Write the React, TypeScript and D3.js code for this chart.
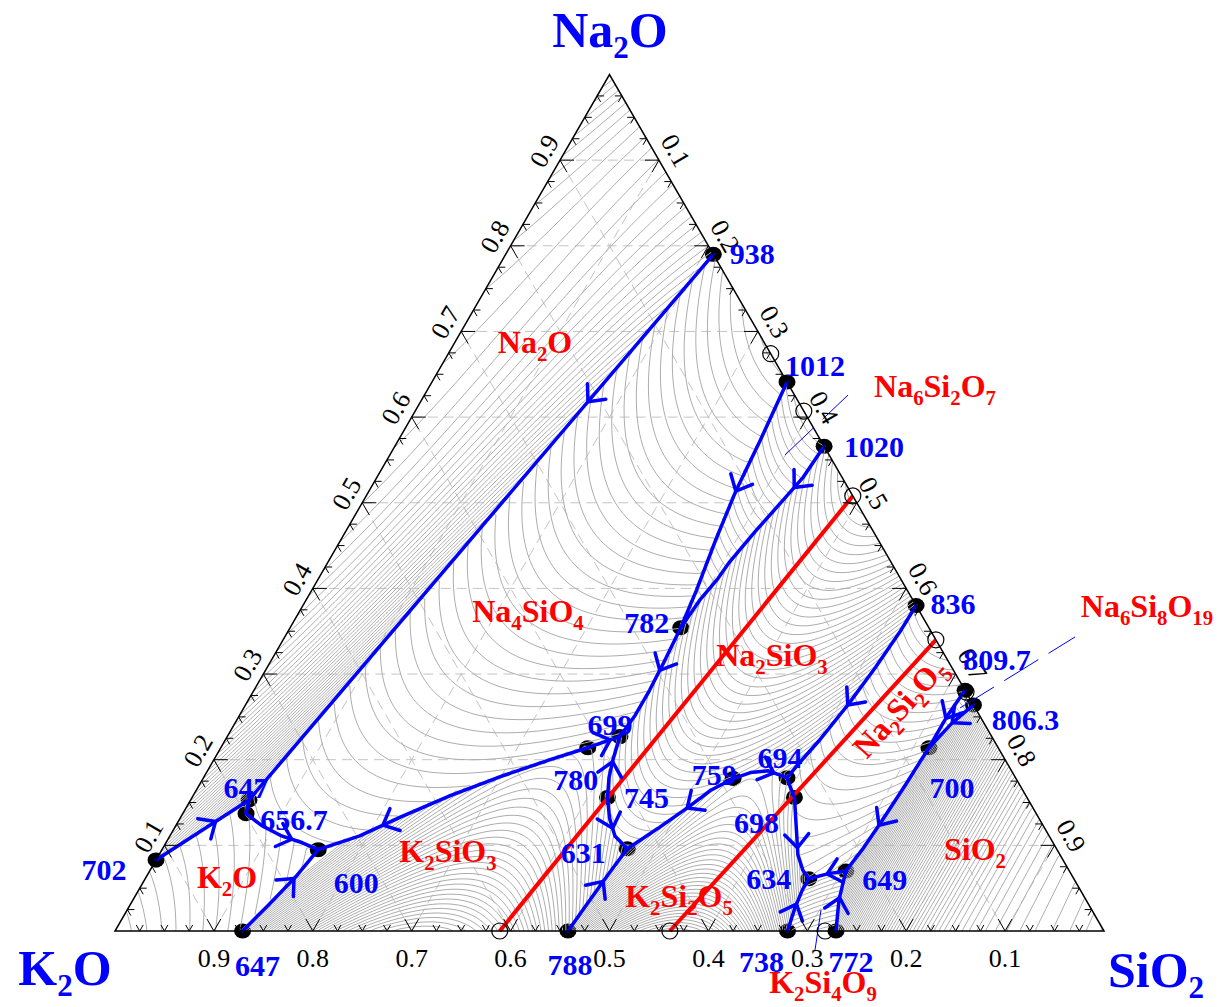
import React, { useMemo } from "react";
import * as d3 from "d3";

// Compositions are [SiO2, Na2O] mass fractions; K2O is the remainder.
type Comp = [number, number];

const WIDTH = 1221;
const HEIGHT = 1007;
const SERIF = "'Liberation Serif', 'Times New Roman', Times, serif";
const BLUE = "#0000ff";
const RED = "#ff0000";

// ---------------------------------------------------------------- data

const invariantPoints: { id: string; T: number; comp: Comp }[] = [
  { id: "938", T: 938, comp: [0.21, 0.79] },
  { id: "1012", T: 1012, comp: [0.359, 0.641] },
  { id: "1020", T: 1020, comp: [0.434, 0.566] },
  { id: "836", T: 836, comp: [0.62, 0.38] },
  { id: "809.7", T: 809.7, comp: [0.719, 0.281] },
  { id: "806.3", T: 806.3, comp: [0.736, 0.264] },
  { id: "702", T: 702, comp: [0, 0.083] },
  { id: "647b", T: 647, comp: [0.129, 0] },
  { id: "788", T: 788, comp: [0.458, 0] },
  { id: "738", T: 738, comp: [0.68, 0] },
  { id: "772", T: 772, comp: [0.729, 0] },
  { id: "647t", T: 647, comp: [0.059, 0.153] },
  { id: "656.7", T: 656.7, comp: [0.064, 0.137] },
  { id: "600", T: 600, comp: [0.158, 0.095] },
  { id: "780", T: 780, comp: [0.371, 0.214] },
  { id: "699", T: 699, comp: [0.397, 0.227] },
  { id: "782", T: 782, comp: [0.395, 0.354] },
  { id: "745", T: 745, comp: [0.42, 0.156] },
  { id: "631", T: 631, comp: [0.47, 0.096] },
  { id: "759", T: 759, comp: [0.536, 0.178] },
  { id: "694", T: 694, comp: [0.59, 0.179] },
  { id: "698", T: 698, comp: [0.609, 0.156] },
  { id: "634", T: 634, comp: [0.671, 0.061] },
  { id: "649", T: 649, comp: [0.704, 0.07] },
  { id: "700", T: 700, comp: [0.716, 0.214] },
];

// Univariant boundary curves, each running from the hotter end to the colder end
const boundaryCurves: { id: string; from: string; to: string; via: Comp[] }[] = [
  { id: "C1", from: "938", to: "647t", via: [] },
  { id: "C2", from: "702", to: "647t", via: [] },
  { id: "C3", from: "656.7", to: "647t", via: [] },
  { id: "C4", from: "656.7", to: "600", via: [[0.087, 0.123], [0.113, 0.111], [0.138, 0.103]] },
  { id: "C5", from: "647b", to: "600", via: [[0.14, 0.03], [0.151, 0.063]] },
  { id: "C6", from: "780", to: "600", via: [[0.34, 0.2], [0.299, 0.18], [0.26, 0.158], [0.222, 0.133], [0.192, 0.111]] },
  { id: "C7", from: "780", to: "699", via: [[0.385, 0.221]] },
  { id: "C8a", from: "1012", to: "782", via: [[0.366, 0.573], [0.371, 0.513], [0.379, 0.457], [0.389, 0.398]] },
  { id: "C8b", from: "782", to: "699", via: [[0.398, 0.316], [0.4, 0.281], [0.4, 0.252]] },
  { id: "C9", from: "1020", to: "782", via: [[0.431, 0.53], [0.424, 0.503], [0.414, 0.466], [0.406, 0.431], [0.404, 0.412], [0.398, 0.386]] },
  { id: "C10a", from: "745", to: "699", via: [[0.41, 0.179], [0.403, 0.202]] },
  { id: "C10b", from: "745", to: "631", via: [[0.434, 0.132], [0.45, 0.111]] },
  { id: "C11", from: "788", to: "631", via: [[0.462, 0.036], [0.466, 0.069]] },
  { id: "C12", from: "759", to: "631", via: [[0.52, 0.164], [0.507, 0.144], [0.49, 0.121], [0.478, 0.106]] },
  { id: "C13", from: "759", to: "694", via: [[0.55, 0.185], [0.567, 0.187]] },
  { id: "C14", from: "836", to: "694", via: [[0.619, 0.349], [0.615, 0.307], [0.609, 0.264], [0.601, 0.223], [0.594, 0.197]] },
  { id: "C15a", from: "698", to: "694", via: [[0.598, 0.169]] },
  { id: "C15b", from: "698", to: "634", via: [[0.63, 0.118], [0.646, 0.089], [0.66, 0.071]] },
  { id: "C16", from: "738", to: "634", via: [[0.674, 0.027], [0.671, 0.048]] },
  { id: "C17", from: "649", to: "634", via: [[0.688, 0.067]] },
  { id: "C18", from: "772", to: "649", via: [[0.714, 0.036]] },
  { id: "C19", from: "700", to: "649", via: [[0.714, 0.171], [0.711, 0.126], [0.708, 0.095]] },
  { id: "C20", from: "809.7", to: "700", via: [[0.716, 0.252]] },
  { id: "C21", from: "806.3", to: "700", via: [[0.725, 0.243]] },
];

// Direction-of-cooling arrows: curve id and position along the curve (0..1)
const flowArrows: [string, number][] = [
  ["C1", 0.27], ["C2", 0.64], ["C4", 0.65], ["C5", 0.66], ["C6", 0.76], ["C7", 0.7],
  ["C8a", 0.45], ["C8b", 0.38], ["C9", 0.22], ["C10a", 0.58], ["C10b", 0.55], ["C11", 0.6],
  ["C12", 0.43], ["C13", 0.75], ["C14", 0.56], ["C15b", 0.6], ["C16", 0.5], ["C17", 0.5],
  ["C18", 0.55], ["C19", 0.62], ["C20", 0.5], ["C21", 0.45],
];

// Binary compounds (open circles)
const compounds: { name: string; comp: Comp }[] = [
  { name: "Na4SiO4", comp: [0.326, 0.674] },
  { name: "Na6Si2O7", comp: [0.393, 0.607] },
  { name: "Na2SiO3", comp: [0.492, 0.508] },
  { name: "Na2Si2O5", comp: [0.66, 0.34] },
  { name: "Na6Si8O19", comp: [0.721, 0.279] },
  { name: "K2SiO3", comp: [0.389, 0] },
  { name: "K2Si2O5", comp: [0.561, 0] },
  { name: "K2Si4O9", comp: [0.718, 0] },
];

// Compatibility joins (red)
const joins: [string, string][] = [
  ["K2SiO3", "Na2SiO3"],
  ["K2Si2O5", "Na2Si2O5"],
];

// Leader lines for the narrow fields
const leaders: { comp: [Comp, Comp]; dashed: boolean }[] = [
  { comp: [[0.3996, 0.5558], [0.4283, 0.6258]], dashed: true },
  { comp: [[0.7242, 0.2604], [0.7991, 0.3433]], dashed: true },
  { comp: [[0.7016, 0.0245], [0.7189, -0.0222]], dashed: false },
];

const cornerComp: Record<string, Comp> = { K2O: [0, 0], SiO2: [1, 0], Na2O: [0, 1] };

// Straight isotherms across the Na2O field (°C, end compositions)
const na2oIsotherms: { T: number; from: Comp; to: Comp }[] = [
  { T: 1100, from: [0.0346, 0.9654], to: [0, 0.871] },
  { T: 1050, from: [0.0887, 0.9113], to: [0, 0.669] },
  { T: 1000, from: [0.1429, 0.8571], to: [0, 0.467] },
  { T: 950, from: [0.197, 0.803], to: [0, 0.265] },
  { T: 900, from: [0.1903, 0.7068], to: [0, 0.195] },
  { T: 850, from: [0.1644, 0.5976], to: [0, 0.166] },
  { T: 800, from: [0.1384, 0.488], to: [0, 0.138] },
  { T: 750, from: [0.1125, 0.3785], to: [0, 0.11] },
];

// Silica field isotherm positions: distance from the SiO2 corner (1 - SiO2) vs °C
const silicaProfile: [number, number][] = [
  [0, 1310], [0.05, 1290], [0.1, 1250], [0.13, 1215], [0.16, 1170], [0.2, 1080], [0.24, 950],
];

// Primary phase fields: outline (corners "@", curves "C…", reversed "-C…", points)
// plus liquidus estimates [SiO2, Na2O, °C]
const phaseFields: { name: string; outline: string[]; extra: [number, number, number][]; kind: string }[] = [
  { name: "Na2O", outline: ["@Na2O", "938", "C1", "-C2"],
    extra: [
      [0, 1, 1132],
      ...na2oIsotherms.flatMap(({ T, from, to }) =>
        [0, 0.25, 0.5, 0.75, 1].map((f) => [from[0] + (to[0] - from[0]) * f, from[1] + (to[1] - from[1]) * f, T] as [number, number, number])
      ),
    ], kind: "poly3" },
  { name: "K2O", outline: ["@K2O", "702", "C2", "-C3", "C4", "-C5"],
    extra: [[0, 0, 740], [0.06, 0, 700], [0, 0.04, 725]], kind: "poly2" },
  { name: "Na4SiO4", outline: ["938", "1012", "C8a", "C8b", "-C7", "C6", "-C4", "C3", "-C1"],
    extra: [[0.326, 0.674, 1083], [0.27, 0.73, 1030]], kind: "poly2" },
  { name: "Na6Si2O7", outline: ["1012", "1020", "C9", "-C8a"],
    extra: [[0.395, 0.605, 1028]], kind: "poly2" },
  { name: "Na2SiO3", outline: ["1020", "836", "C14", "-C13", "C12", "-C10b", "C10a", "-C8b", "-C9"],
    extra: [[0.492, 0.508, 1089], [0.56, 0.44, 1010]], kind: "poly2" },
  { name: "K2SiO3", outline: ["647b", "788", "C11", "-C10b", "C10a", "-C7", "C6", "-C5"],
    extra: [[0.389, 0, 976]], kind: "poly2" },
  { name: "K2Si2O5", outline: ["788", "738", "C16", "-C15b", "C15a", "-C13", "C12", "-C11"],
    extra: [[0.561, 0, 1045], [0.51, 0, 960], [0.63, 0, 950]], kind: "poly2" },
  { name: "Na2Si2O5", outline: ["836", "809.7", "C20", "C19", "C17", "-C15b", "C15a", "-C14"],
    extra: [[0.66, 0.34, 874], [0.69, 0.31, 850]], kind: "poly2" },
  { name: "Na6Si8O19", outline: ["809.7", "806.3", "C21", "-C20"], extra: [], kind: "poly1" },
  { name: "K2Si4O9", outline: ["738", "772", "C18", "C17", "-C16"],
    extra: [[0.705, 0, 760]], kind: "poly2" },
  { name: "SiO2", outline: ["772", "@SiO2", "806.3", "C21", "C19", "-C18"],
    extra: silicaProfile.flatMap(([u, T]) => [[1 - u, 0, T], [1 - u, u, T], [1 - u, u / 2, T]] as [number, number, number][]),
    kind: "silica" },
];

const isothermStep = 10;
const tickValues = [0.1, 0.2, 0.3, 0.4, 0.5, 0.6, 0.7, 0.8, 0.9];

// ---------------------------------------------------------------- layout

const FRAME = { left: 115, right: 1104, base: 931, height: 856.5 };
const xScale = d3.scaleLinear().domain([0, 1]).range([FRAME.left, FRAME.right]);
const yScale = d3.scaleLinear().domain([0, 1]).range([FRAME.base, FRAME.base - FRAME.height]);
const project = ([s, n]: Comp): [number, number] => [xScale(s + n / 2), yScale(n)];
const planar = ([s, n]: Comp): [number, number] => [s + n / 2 - 0.5, n * 0.866 - 0.3];

const pointLabelOffset: Record<string, [number, number]> = {
  "938": [39, 0], "1012": [28, -16], "1020": [50, 1], "836": [37, -2], "809.7": [32, -30],
  "806.3": [52, 15], "700": [23, 40], "649": [39, 9], "634": [-40, 0], "738": [-26, 31],
  "772": [15, 31], "788": [2, 34], "647b": [15, 35], "600": [38, 33], "656.7": [48, 6],
  "702": [-52, 10], "647t": [-3, -12], "780": [-12, 32], "699": [-10, -12], "782": [-34, -5],
  "745": [39, 1], "631": [-44, 4], "759": [-19, -4], "694": [-7, -20], "698": [-38, 26],
};

const phaseLabels: { text: string; x: number; y: number; rotate?: number }[] = [
  { text: "Na_2O", x: 535, y: 353 },
  { text: "Na_4SiO_4", x: 528, y: 622 },
  { text: "Na_2SiO_3", x: 772, y: 666 },
  { text: "Na_2Si_2O_5", x: 900, y: 708, rotate: -48 },
  { text: "K_2O", x: 227, y: 888 },
  { text: "K_2SiO_3", x: 448, y: 862 },
  { text: "K_2Si_2O_5", x: 679, y: 907 },
  { text: "SiO_2", x: 975, y: 860 },
  { text: "Na_6Si_2O_7", x: 935, y: 397 },
  { text: "Na_6Si_8O_19", x: 1147, y: 617 },
  { text: "K_2Si_4O_9", x: 823, y: 993 },
];

const cornerTitles: { text: string; x: number; y: number }[] = [
  { text: "Na_2O", x: 610, y: 47 },
  { text: "K_2O", x: 65, y: 985 },
  { text: "SiO_2", x: 1156, y: 987 },
];

// ---------------------------------------------------------------- liquidus surface

function basis(c: Comp, kind: string): number[] {
  if (kind === "silica") {
    const u = 1 - c[0], v = 2 * c[1] + c[0] - 1;
    return [1, u, u * u, u * u * u, v, v * u];
  }
  const [X, Y] = planar(c);
  const b = [1, X, Y];
  if (kind !== "poly1") b.push(X * X, X * Y, Y * Y);
  if (kind === "poly3") b.push(X * X * X, X * X * Y, X * Y * Y, Y * Y * Y);
  return b;
}

function fitSurface(anchors: [number, number, number, number][], kind: string): number[] {
  const m = basis([0.3, 0.3], kind).length;
  const A = Array.from({ length: m }, () => new Array(m + 1).fill(0));
  for (const [s, n, T, w] of anchors) {
    const b = basis([s, n], kind);
    for (let i = 0; i < m; i++) {
      for (let j = 0; j < m; j++) A[i][j] += w * b[i] * b[j];
      A[i][m] += w * b[i] * T;
    }
  }
  for (let i = 0; i < m; i++) A[i][i] += 1e-9;
  for (let c = 0; c < m; c++) {
    let p = c;
    for (let r = c + 1; r < m; r++) if (Math.abs(A[r][c]) > Math.abs(A[p][c])) p = r;
    [A[c], A[p]] = [A[p], A[c]];
    for (let r = 0; r < m; r++) {
      if (r === c) continue;
      const f = A[r][c] / A[c][c];
      for (let k = c; k <= m; k++) A[r][k] -= f * A[c][k];
    }
  }
  return A.map((row, i) => row[m] / row[i]);
}

function segDist(p: number[], a: number[], b: number[]) {
  const dx = b[0] - a[0], dy = b[1] - a[1];
  const L = dx * dx + dy * dy || 1e-12;
  const t = Math.max(0, Math.min(1, ((p[0] - a[0]) * dx + (p[1] - a[1]) * dy) / L));
  return Math.hypot(p[0] - a[0] - t * dx, p[1] - a[1] - t * dy);
}

function buildModel() {
  const pt = new Map(invariantPoints.map((p) => [p.id, p]));
  const curvePts = new Map<string, Comp[]>();
  const curveDense = new Map<string, { pts: Comp[]; temps: number[] }>();
  for (const c of boundaryCurves) {
    const pts: Comp[] = [pt.get(c.from)!.comp, ...c.via, pt.get(c.to)!.comp];
    curvePts.set(c.id, pts);
    const dense: Comp[] = [pts[0]];
    for (let i = 1; i < pts.length; i++) {
      const a = pts[i - 1], b = pts[i];
      const steps = Math.max(1, Math.ceil(Math.hypot(b[0] - a[0], b[1] - a[1]) / 0.025));
      for (let k = 1; k <= steps; k++) dense.push([a[0] + ((b[0] - a[0]) * k) / steps, a[1] + ((b[1] - a[1]) * k) / steps]);
    }
    const pl = dense.map(planar);
    const cum = [0];
    for (let i = 1; i < pl.length; i++) cum.push(cum[i - 1] + Math.hypot(pl[i][0] - pl[i - 1][0], pl[i][1] - pl[i - 1][1]));
    const L = cum[cum.length - 1];
    const t0 = pt.get(c.from)!.T, t1 = pt.get(c.to)!.T;
    curveDense.set(c.id, { pts: dense, temps: cum.map((d) => t0 + ((t1 - t0) * d) / L) });
  }

  const fields = phaseFields.map((f) => {
    const poly: Comp[] = [];
    const anchors: [number, number, number, number][] = [];
    for (const tok of f.outline) {
      const key = tok.replace("-", "");
      if (tok.startsWith("@")) {
        poly.push(cornerComp[tok.slice(1)]);
      } else if (curveDense.has(key)) {
        const cd = curveDense.get(key)!;
        const idx = cd.pts.map((_, i) => i);
        if (tok.startsWith("-")) idx.reverse();
        for (const i of idx) {
          poly.push(cd.pts[i]);
          anchors.push([cd.pts[i][0], cd.pts[i][1], cd.temps[i], 1]);
        }
      } else {
        const p = pt.get(tok)!;
        poly.push(p.comp);
        anchors.push([p.comp[0], p.comp[1], p.T, 1]);
      }
    }
    for (const [s, n, T] of f.extra) anchors.push([s, n, T, 3]);
    return { name: f.name, poly: poly.map(planar), coef: fitSurface(anchors, f.kind), kind: f.kind };
  });

  const evalField = (fi: number, c: Comp) => {
    const f = fields[fi];
    const b = basis(c, f.kind);
    let v = 0;
    for (let i = 0; i < b.length; i++) v += b[i] * f.coef[i];
    return v;
  };

  const cell = 3, gx0 = 110, gy0 = 68;
  const nx = Math.ceil((1110 - gx0) / cell) + 1;
  const ny = Math.ceil((942 - gy0) / cell) + 1;
  const values: number[] = new Array(nx * ny);
  let last = 0;
  for (let j = 0; j < ny; j++) {
    for (let i = 0; i < nx; i++) {
      const px = gx0 + i * cell, py = gy0 + j * cell;
      let n = yScale.invert(py);
      let s = xScale.invert(px) - n / 2;
      let k = 1 - s - n;
      const e = 2e-4;
      n = Math.max(n, e); s = Math.max(s, e); k = Math.max(k, e);
      const sum = n + s + k;
      n /= sum; s /= sum;
      const P = planar([s, n]);
      let fi = -1;
      if (d3.polygonContains(fields[last].poly, P)) fi = last;
      else {
        for (let q = 0; q < fields.length; q++) {
          if (q !== last && d3.polygonContains(fields[q].poly, P)) { fi = q; break; }
        }
      }
      if (fi < 0) {
        let best = Infinity;
        fields.forEach((f, q) => {
          for (let a = 0; a < f.poly.length; a++) {
            const d = segDist(P, f.poly[a], f.poly[(a + 1) % f.poly.length]);
            if (d < best) { best = d; fi = q; }
          }
        });
      }
      last = fi;
      values[j * nx + i] = evalField(fi, [s, n]);
    }
  }
  const levels = d3.range(610, 1720, isothermStep);
  const contours = d3.contours().size([nx, ny]).thresholds(levels)(values);
  const gp = d3.geoPath();
  const isoPaths = contours.map((c) => gp(c as any) || "");
  return { curvePts, isoPaths, cell, gx0, gy0 };
}

// ---------------------------------------------------------------- drawing helpers

function Formula({ text, x = 0, y = 0, size, fill, transform, subScale = 0.65, shift = 0.25 }: any) {
  const parts: string[] = text.split(/_(\d+)/);
  const nodes: any[] = [];
  let down = false;
  parts.forEach((p, i) => {
    if (p === "") return;
    if (i % 2 === 1) {
      nodes.push(<tspan key={i} dy={down ? 0 : size * shift} fontSize={size * subScale}>{p}</tspan>);
      down = true;
    } else {
      nodes.push(<tspan key={i} dy={down ? -size * shift : 0}>{p}</tspan>);
      down = false;
    }
  });
  return (
    <text x={x} y={y} transform={transform} fontSize={size} fill={fill} fontWeight="bold" fontFamily={SERIF} textAnchor="middle">
      {nodes}
    </text>
  );
}

function pointAlong(pts: [number, number][], t: number) {
  const cum = [0];
  for (let i = 1; i < pts.length; i++) cum.push(cum[i - 1] + Math.hypot(pts[i][0] - pts[i - 1][0], pts[i][1] - pts[i - 1][1]));
  const target = t * cum[cum.length - 1];
  let i = 1;
  while (i < pts.length - 1 && cum[i] < target) i++;
  const a = pts[i - 1], b = pts[i];
  const f = (target - cum[i - 1]) / (cum[i] - cum[i - 1] || 1);
  return { x: a[0] + (b[0] - a[0]) * f, y: a[1] + (b[1] - a[1]) * f, ang: Math.atan2(b[1] - a[1], b[0] - a[0]) };
}

export default function App() {
  const model = useMemo(buildModel, []);
  const line = d3.line<[number, number]>();

  const tri = [cornerComp.K2O, cornerComp.SiO2, cornerComp.Na2O].map(project);
  const triPath = `M${tri.map((p) => p.join(",")).join("L")}Z`;
  const compoundByName = new Map(compounds.map((c) => [c.name, c.comp]));

  // dashed 0.1 grid
  const grid: [Comp, Comp][] = [];
  tickValues.forEach((v) => {
    grid.push([[0, v], [1 - v, v]]);
    grid.push([[v, 0], [v, 1 - v]]);
    grid.push([[1 - v, 0], [0, 1 - v]]);
  });

  // tick marks every 0.025
  const ticks: string[] = [];
  const c60 = 0.5, s60 = 0.866;
  d3.range(1, 40).forEach((i) => {
    const f = i / 40;
    const len = i % 4 === 0 ? 14 : 7;
    const arms = (p: [number, number], dirs: [number, number][]) =>
      dirs.forEach(([dx, dy]) => ticks.push(`M${p[0]},${p[1]}l${dx * len},${dy * len}`));
    arms(project([0, f]), [[1, 0], [c60, s60]]);
    arms(project([f, 1 - f]), [[-1, 0], [-c60, s60]]);
    arms(project([f, 0]), [[-c60, -s60], [c60, -s60]]);
  });

  const { curvePts, isoPaths, cell, gx0, gy0 } = model;

  return (
    <div style={{ position: "absolute", left: 0, top: 0 }}>
      <svg width={WIDTH} height={HEIGHT} style={{ display: "block", background: "#fff" }}>
        <defs>
          <clipPath id="tri">
            <path d={triPath} />
          </clipPath>
        </defs>

        {/* 0.1 composition grid */}
        <g stroke="#c4c4c4" strokeWidth={1} strokeDasharray="10,6" fill="none">
          {grid.map(([a, b], i) => (
            <path key={i} d={line([project(a), project(b)]) || ""} />
          ))}
        </g>

        {/* invariant points (under the isotherms) */}
        <g fill="#000">
          {invariantPoints.map((p) => {
            const [x, y] = project(p.comp);
            return <ellipse key={p.id} cx={x} cy={y} rx={8.5} ry={7.5} />;
          })}
        </g>

        {/* liquidus isotherms */}
        <g clipPath="url(#tri)">
          <g transform={`translate(${gx0 - cell / 2},${gy0 - cell / 2}) scale(${cell})`} fill="none" stroke="#adadad" strokeWidth={1}>
            {isoPaths.map((d, i) => (
              <path key={i} d={d} vectorEffect="non-scaling-stroke" />
            ))}
          </g>
        </g>

        {/* joins */}
        <g stroke={RED} strokeWidth={4} fill="none">
          {joins.map(([a, b]) => (
            <path key={a} d={line([project(compoundByName.get(a)!), project(compoundByName.get(b)!)]) || ""} />
          ))}
        </g>

        {/* leader lines */}
        <g stroke={BLUE} strokeWidth={1} fill="none">
          {leaders.map((l, i) => (
            <path key={i} d={line(l.comp.map(project)) || ""} strokeDasharray={l.dashed ? "40,12" : undefined} />
          ))}
        </g>

        {/* boundary curves */}
        <g stroke={BLUE} strokeWidth={3.5} fill="none" strokeLinejoin="round" strokeLinecap="round">
          {boundaryCurves.map((c) => (
            <path key={c.id} d={line(curvePts.get(c.id)!.map(project)) || ""} />
          ))}
          {flowArrows.map(([id, t]) => {
            const p = pointAlong(curvePts.get(id)!.map(project), t);
            const L = 18, spread = (42 * Math.PI) / 180;
            const a1 = p.ang + Math.PI - spread, a2 = p.ang + Math.PI + spread;
            return (
              <path
                key={id}
                d={`M${p.x + L * Math.cos(a1)},${p.y + L * Math.sin(a1)}L${p.x},${p.y}L${p.x + L * Math.cos(a2)},${p.y + L * Math.sin(a2)}`}
              />
            );
          })}
        </g>

        {/* compound compositions */}
        <g fill="none" stroke="#000" strokeWidth={1.2}>
          {compounds.map((c) => {
            const [x, y] = project(c.comp);
            return <circle key={c.name} cx={x} cy={y} r={8} />;
          })}
        </g>

        {/* ticks and frame */}
        <path d={ticks.join("")} stroke="#000" strokeWidth={1} fill="none" />
        <path d={triPath} stroke="#000" strokeWidth={1.5} fill="none" />

        {/* axis labels */}
        <g fontFamily={SERIF} fontSize={26} fill="#000">
          {tickValues.map((v) => {
            const [lx, ly] = project([0, v]);
            const [rx, ry] = project([v, 1 - v]);
            const [bx] = project([1 - v, 0]);
            return (
              <g key={v}>
                <text transform={`translate(${lx - 15.6},${ly - 9}) rotate(-60)`} textAnchor="middle" dominantBaseline="central">
                  {v.toFixed(1)}
                </text>
                <text transform={`translate(${rx + 16.5},${ry - 9.5}) rotate(60)`} textAnchor="middle" dominantBaseline="central">
                  {v.toFixed(1)}
                </text>
                <text x={bx} y={967} textAnchor="middle">
                  {v.toFixed(1)}
                </text>
              </g>
            );
          })}
        </g>

        {/* invariant temperatures */}
        <g fontFamily={SERIF} fontSize={30} fontWeight="bold" fill={BLUE} textAnchor="middle">
          {invariantPoints.map((p) => {
            const [x, y] = project(p.comp);
            const [dx, dy] = pointLabelOffset[p.id];
            return (
              <text key={p.id} x={x + dx} y={y + dy + 10}>
                {String(p.T)}
              </text>
            );
          })}
        </g>

        {/* phase field names */}
        {phaseLabels.map((l) =>
          l.rotate ? (
            <Formula key={l.text} text={l.text} size={32} fill={RED} transform={`translate(${l.x},${l.y}) rotate(${l.rotate})`} y={10} />
          ) : (
            <Formula key={l.text} text={l.text} x={l.x} y={l.y} size={32} fill={RED} />
          )
        )}

        {/* component names */}
        {cornerTitles.map((c) => (
          <Formula key={c.text} text={c.text} x={c.x} y={c.y} size={50} fill={BLUE} subScale={0.62} shift={0.22} />
        ))}
      </svg>
    </div>
  );
}
